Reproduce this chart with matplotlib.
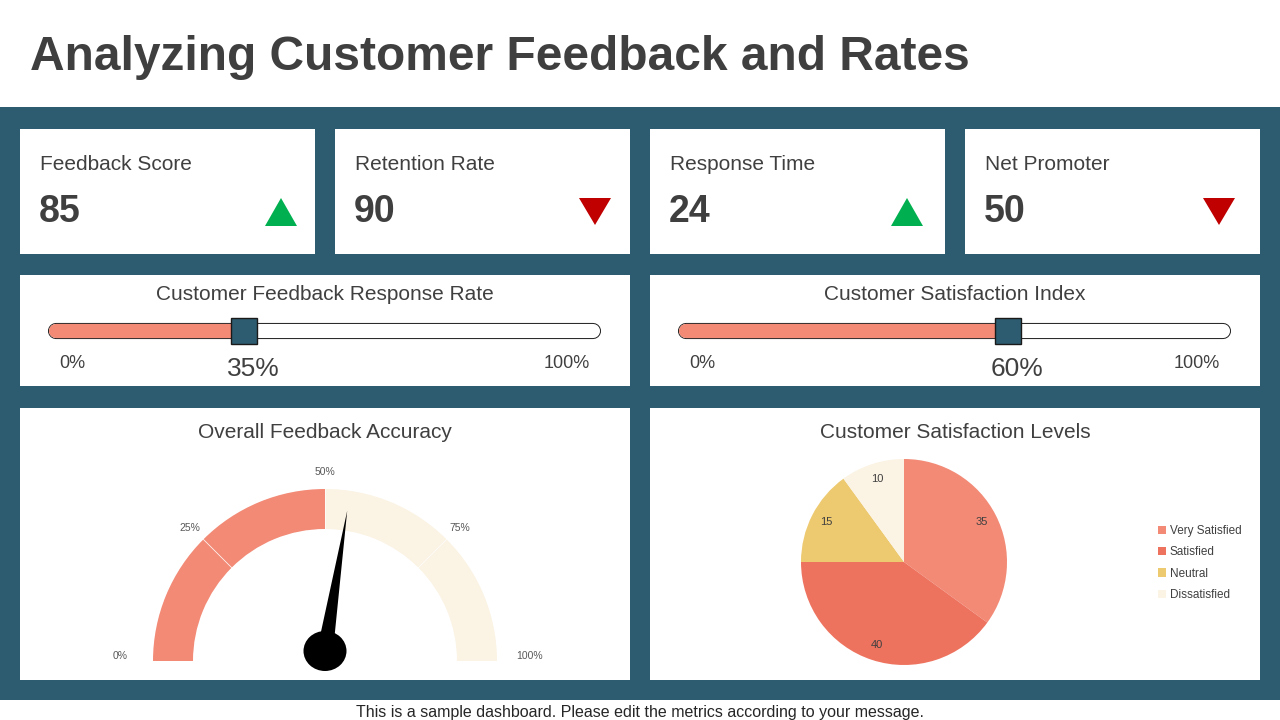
import matplotlib
matplotlib.use('Agg')
import matplotlib.pyplot as plt
from matplotlib.patches import Rectangle, Polygon, Wedge, Ellipse
import numpy as np

plt.rcParams['font.family'] = ['Liberation Sans', 'DejaVu Sans']

# ---------------- data ----------------
title = 'Analyzing Customer Feedback and Rates'
kpi_labels = ['Feedback Score', 'Retention Rate', 'Response Time', 'Net Promoter']
kpi_values = [85, 90, 24, 50]
kpi_trend = ['up', 'down', 'up', 'down']

slider_titles = ['Customer Feedback Response Rate', 'Customer Satisfaction Index']
slider_values = [35, 60]

gauge_title = 'Overall Feedback Accuracy'
gauge_ticks = [0, 25, 50, 75, 100]
gauge_fill = 50
gauge_needle = 55

pie_title = 'Customer Satisfaction Levels'
pie_labels = ['Very Satisfied', 'Satisfied', 'Neutral', 'Dissatisfied']
pie_values = [35, 40, 15, 10]
pie_colors = ['#F28A76', '#EE735F', '#EDC96F', '#FBF3E3']

footer = 'This is a sample dashboard. Please edit the metrics according to your message.'

# ---------------- style ----------------
W, H = 1280, 720
TEAL = '#2D5B6F'
TXT = '#404040'
SALMON = '#F28A76'
CREAM = '#FBF3E3'
UP = '#00B050'
DOWN = '#C00000'


def fa(x0, y0, x1, y1):
    return [x0 / W, 1 - y1 / H, (x1 - x0) / W, (y1 - y0) / H]


fig = plt.figure(figsize=(12.8, 7.2), dpi=100, facecolor='white')
bg = fig.add_axes([0, 0, 1, 1])
bg.set_xlim(0, W)
bg.set_ylim(H, 0)
bg.axis('off')

bg.add_patch(Rectangle((0, 107), W, 593, facecolor=TEAL, edgecolor='none'))
bg.text(30, 58, title, fontsize=34.5, fontweight='bold', color='#3F3F3F',
        ha='left', va='center')

# KPI cards
kpi_left = [20, 335, 650, 965]
tri_x = [281, 595, 907, 1219]
for x0, tx, lab, val, tr in zip(kpi_left, tri_x, kpi_labels, kpi_values, kpi_trend):
    bg.add_patch(Rectangle((x0, 129), 295, 125, facecolor='white', edgecolor='none'))
    bg.text(x0 + 20, 164, lab, fontsize=15, color=TXT, ha='left', va='center')
    bg.text(x0 + 19, 211.5, str(val), fontsize=27, fontweight='bold', color='#3F3F3F',
            ha='left', va='center')
    if tr == 'up':
        pts = [(tx - 16, 226), (tx + 16, 226), (tx, 198)]
        col = UP
    else:
        pts = [(tx - 16, 198), (tx + 16, 198), (tx, 225)]
        col = DOWN
    bg.add_patch(Polygon(pts, closed=True, facecolor=col, edgecolor='none'))

# Slider cards
for x0, st, v in zip([20, 650], slider_titles, slider_values):
    bg.add_patch(Rectangle((x0, 275), 610, 111, facecolor='white', edgecolor='none'))
    bg.text(x0 + 305, 294, st, fontsize=15, color=TXT, ha='center', va='center')
    bg.text(x0 + 52, 363, '0%', fontsize=13, color=TXT, ha='center', va='center')
    bg.text(x0 + 547, 363, '100%', fontsize=13, color=TXT, ha='center', va='center')
    ax = fig.add_axes(fa(x0 + 36, 316, x0 + 573, 346))
    ax.set_xlim(0, 100)
    ax.set_ylim(-1, 1)
    ax.axis('off')
    ax.plot([0, 100], [0, 0], color='#1a1a1a', lw=11.6, solid_capstyle='round', clip_on=False)
    ax.plot([0, 100], [0, 0], color='white', lw=10.2, solid_capstyle='round', clip_on=False)
    ax.plot([0, v], [0, 0], color=SALMON, lw=10.2, solid_capstyle='round', clip_on=False)
    ax.plot([v], [0], marker='s', ms=19, mfc=TEAL, mec='#1a1a1a', mew=1.0, clip_on=False)
    ax.annotate(f'{v}%', xy=(v, 0), xytext=(9, -38), textcoords='offset pixels',
                fontsize=19, color=TXT, ha='center', va='center', annotation_clip=False)

# Bottom cards
for x0 in [20, 650]:
    bg.add_patch(Rectangle((x0, 408), 610, 272, facecolor='white', edgecolor='none'))
bg.text(325, 433, gauge_title, fontsize=15, color=TXT, ha='center', va='center')
bg.text(955, 433, pie_title, fontsize=15, color=TXT, ha='center', va='center')

# Gauge (1 data unit = 1 pixel, centre at pixel (325, 661))
gx = fig.add_axes(fa(100, 451, 550, 691))
gx.set_xlim(-225, 225)
gx.set_ylim(-30, 210)
gx.axis('off')
for a0, a1 in zip(gauge_ticks[:-1], gauge_ticks[1:]):
    col = SALMON if a1 <= gauge_fill else CREAM
    gx.add_patch(Wedge((0, 0), 172, 180 - a1 * 1.8, 180 - a0 * 1.8, width=40,
                       facecolor=col, edgecolor='none'))
    ang0 = np.radians(180 - a0 * 1.8)
    if 0 < a0 < 100:
        gx.plot([132 * np.cos(ang0), 172 * np.cos(ang0)],
                [132 * np.sin(ang0), 172 * np.sin(ang0)],
                color='white', lw=0.6, alpha=0.8)
for t in gauge_ticks:
    a = np.radians(180 - 1.8 * t)
    end = t in (gauge_ticks[0], gauge_ticks[-1])
    r = 205 if end else 191
    gx.text(r * np.cos(a), r * np.sin(a) + (5 if end else -2), f'{t}%', fontsize=7.5,
            color='#595959', ha='center', va='center')
ang = np.radians(180 - 1.8 * gauge_needle)
pivot = np.array([0.0, 10.0])
direc = np.array([np.cos(ang), np.sin(ang)])
perp = np.array([-np.sin(ang), np.cos(ang)])
tip = pivot + 142 * direc
gx.add_patch(Polygon([pivot + 8 * perp, tip, pivot - 8 * perp], closed=True,
                     facecolor='black', edgecolor='none'))
gx.add_patch(Ellipse((0, 10), 43, 40, facecolor='black', edgecolor='none'))

# Pie
px = fig.add_axes(fa(801, 459, 1007, 665))
tot = sum(pie_values)
wedges, texts, autotexts = px.pie(
    pie_values, colors=pie_colors, startangle=90, counterclock=False,
    autopct=lambda p: f'{p * tot / 100:.0f}', pctdistance=0.85,
    wedgeprops=dict(linewidth=0), textprops=dict(fontsize=8, color=TXT))
px.set_xlim(-1, 1)
px.set_ylim(-1, 1)
px.set_aspect('equal')
px.legend(wedges, pie_labels, loc='center left', bbox_to_anchor=(1158 / W, 1 - 563 / H),
          bbox_transform=fig.transFigure, frameon=False, fontsize=8.5, labelcolor=TXT,
          handlelength=0.7, handleheight=0.7, handletextpad=0.3, labelspacing=0.8,
          borderpad=0, borderaxespad=0)

bg.text(640, 712, footer, fontsize=11.5, color='#262626', ha='center', va='center')

fig.savefig('out.png', dpi=100, facecolor='white')
